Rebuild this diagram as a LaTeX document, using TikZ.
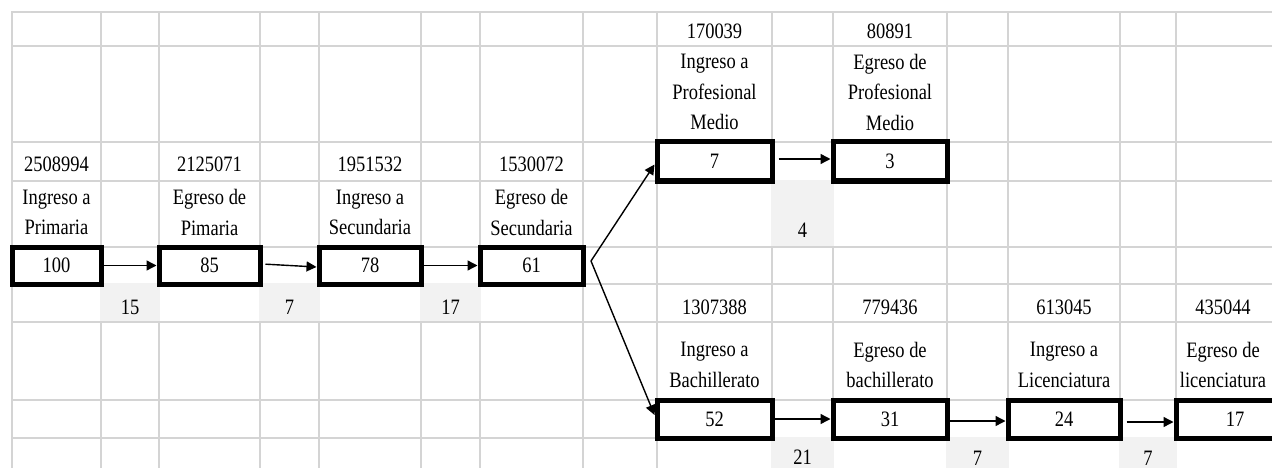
\documentclass[tikz,border=0pt]{standalone}
\usepackage{fontspec}
\setmainfont[FakeStretch=0.84]{Liberation Serif}
\usetikzlibrary{arrows.meta}
\definecolor{gridc}{HTML}{D4D4D4}
\definecolor{shadec}{HTML}{F2F2F2}
\begin{document}
\begin{tikzpicture}[x=1pt,y=-1pt,
  gridline/.style={draw=gridc, line width=1.5pt},
  shadecell/.style={fill=shadec, draw=none},
  lbl/.style={font=\fontsize{22}{30.5}\selectfont, align=center, inner sep=0pt},
  numbox/.style={draw=black, line width=5pt, inner sep=0pt, font=\fontsize{22}{30.5}\selectfont},
  arr/.style={-{Triangle[length=10pt,width=10pt]}, line width=1.4pt, black}
]
\useasboundingbox (0,0) rectangle (1272,468);
\clip (0,0) rectangle (1272,468);
\fill[white] (0,0) rectangle (1272,468);
% grid
\foreach \x in {12,101,159,260,319,421,480,583,657,772,833,947,1008,1120,1176}
  \draw[gridline] (\x,11.25) -- (\x,472);
\foreach \y in {12,46,142,181,247,284,322,400,438}
  \draw[gridline] (11.25,\y) -- (1276,\y);
% shaded cells
\fill[shadecell] (100.25,283.25) rectangle (159.75,321.25);
\fill[shadecell] (259.25,283.25) rectangle (319.75,321.25);
\fill[shadecell] (420.25,283.25) rectangle (480.75,321.25);
\fill[shadecell] (771.25,180.25) rectangle (833.75,246.25);
\fill[shadecell] (771.25,437.25) rectangle (833.75,472);
\fill[shadecell] (946.25,437.25) rectangle (1008.75,472);
\fill[shadecell] (1119.25,437.25) rectangle (1176.75,472);
% top rows
\node[lbl] (n170039) at (714.5,31) {170039};
\node[lbl] (n80891) at (890,31) {80891};
\node[lbl] (lipm) at (714.5,92) {Ingreso a\\Profesional\\Medio};
\node[lbl] (lepm) at (890,92) {Egreso de\\Profesional\\Medio};
% numbers row
\node[lbl] (n2508994) at (56.5,164) {2508994};
\node[lbl] (n2125071) at (209.5,164) {2125071};
\node[lbl] (n1951532) at (370,164) {1951532};
\node[lbl] (n1530072) at (531.5,164) {1530072};
% label row
\node[lbl] (lip) at (56.5,212.5) {Ingreso a\\Primaria};
\node[lbl] (lep) at (209.5,212.5) {Egreso de\\Pimaria};
\node[lbl] (lis) at (370,212.5) {Ingreso a\\Secundaria};
\node[lbl] (les) at (531.5,212.5) {Egreso de\\Secundaria};
\node[lbl] (d4) at (802.5,230) {4};
% drop numbers
\node[lbl] (d15) at (130,307) {15};
\node[lbl] (d7a) at (289.5,307) {7};
\node[lbl] (d17) at (450.5,307) {17};
\node[lbl] (n1307388) at (714.5,307) {1307388};
\node[lbl] (n779436) at (890,307) {779436};
\node[lbl] (n613045) at (1064,307) {613045};
\node[lbl] (n435044) at (1223,307) {435044};
\node[lbl] (lib) at (714.5,365) {Ingreso a\\Bachillerato};
\node[lbl] (leb) at (890,365) {Egreso de\\bachillerato};
\node[lbl] (lil) at (1064,365) {Ingreso a\\Licenciatura};
\node[lbl] (lel) at (1223,365) {Egreso de\\licenciatura};
\node[lbl] (d21) at (802.5,457) {21};
\node[lbl] (d7b) at (977.5,458) {7};
\node[lbl] (d7c) at (1148,458) {7};
% boxes
\node[numbox, minimum width=89pt, minimum height=37pt] (b100) at (56.5,265.5) {100};
\node[numbox, minimum width=101pt, minimum height=37pt] (b85) at (209.5,265.5) {85};
\node[numbox, minimum width=102pt, minimum height=37pt] (b78) at (370,265.5) {78};
\node[numbox, minimum width=103pt, minimum height=37pt] (b61) at (531.5,265.5) {61};
\node[numbox, minimum width=115pt, minimum height=39pt] (b7) at (714.5,161.5) {7};
\node[numbox, minimum width=114pt, minimum height=39pt] (b3) at (890,161.5) {3};
\node[numbox, minimum width=115pt, minimum height=38pt] (b52) at (714.5,419) {52};
\node[numbox, minimum width=114pt, minimum height=38pt] (b31) at (890,419) {31};
\node[numbox, minimum width=112pt, minimum height=38pt] (b24) at (1064,419) {24};
\node[numbox, minimum width=118pt, minimum height=38pt] (b17) at (1235,419) {17};
% connectors
\coordinate (split) at (591,261);
\draw[arr] (b100.east) -- (b85.west);
\draw[arr, shorten <=3pt] ([yshift=1.5pt]b85.east) -- ([yshift=-1.5pt]b78.west);
\draw[arr] (b78.east) -- (b61.west);
\draw[arr] (split) -- ([yshift=-3pt]b7.west);
\draw[arr] (split) -- ([yshift=4pt]b52.west);
\draw[arr, shorten <=4pt] ([yshift=2.5pt]b7.east) -- ([yshift=2.5pt]b3.west);
\draw[arr] (b52.east) -- (b31.west);
\draw[arr] ([yshift=-2pt]b31.east) -- ([yshift=-2pt]b24.west);
\draw[arr, shorten <=4pt] ([yshift=-3pt]b24.east) -- ([yshift=-3pt]b17.west);
\end{tikzpicture}
\end{document}
